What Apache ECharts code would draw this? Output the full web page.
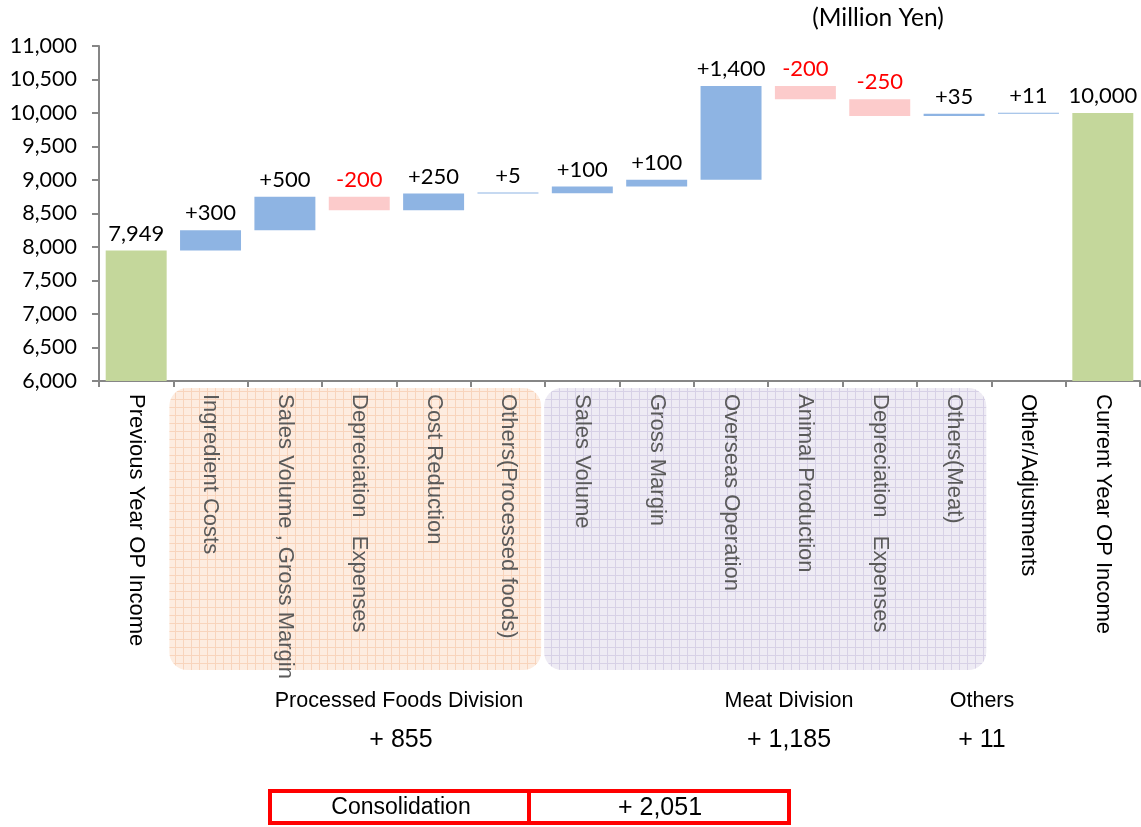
<!DOCTYPE html>
<html>
<head>
<meta charset="utf-8">
<script src="https://cdn.jsdelivr.net/npm/echarts@6/dist/echarts.min.js"></script>
<style>
html,body{margin:0;padding:0;background:#fff;}
#chart{width:1141px;height:827px;}
</style>
</head>
<body>
<div id="chart"></div>
<script>
// ---- data ----
const categories = [
  'Previous Year OP Income', 'Ingredient Costs', 'Sales Volume , Gross Margin',
  'Depreciation   Expenses', 'Cost Reduction', 'Others(Processed foods)',
  'Sales Volume', 'Gross Margin', 'Overseas Operation', 'Animal Production',
  'Depreciation   Expenses', 'Others(Meat)', 'Other/Adjustments', 'Current Year OP Income'
];
const startValue = 7949;
const changes = [300, 500, -200, 250, 5, 100, 100, 1400, -200, -250, 35, 11];
const endValue = 10000;
const yMin = 6000, yMax = 11000, yInterval = 500;
const divisionNames = ['Processed Foods Division', 'Meat Division', 'Others'];
const divisionTotals = ['+ 855', '+ 1,185', '+ 11'];
const consolidationLabel = 'Consolidation';
const consolidationTotal = '+ 2,051';
const unitLabel = '(Million Yen)';

// ---- build waterfall ----
const base = [0], delta = [startValue], kind = ['total'];
let run = startValue;
changes.forEach(c => {
  if (c >= 0) { base.push(run); delta.push(c); kind.push('up'); }
  else { base.push(run + c); delta.push(-c); kind.push('down'); }
  run += c;
});
base.push(0); delta.push(endValue); kind.push('total');
const colorOf = { total: '#C4D79B', up: '#8EB4E3', down: '#FCCBCB' };
const fmt = v => v.toLocaleString('en-US');
const labelText = i => {
  if (kind[i] === 'total') return fmt(delta[i]);
  return (kind[i] === 'up' ? '+' : '-') + fmt(delta[i]);
};

function makePattern(bg, line) {
  const c = document.createElement('canvas');
  c.width = 8; c.height = 8;
  const g = c.getContext('2d');
  g.fillStyle = bg; g.fillRect(0, 0, 8, 8);
  g.fillStyle = line; g.fillRect(7, 0, 1, 8); g.fillRect(0, 7, 8, 1);
  return c;
}

const chart = echarts.init(document.getElementById('chart'));
const inBox = i => i >= 1 && i <= 11;

chart.setOption({
  animation: false,
  grid: { left: 99, right: 1, top: 46, bottom: 446, containLabel: false, outerBoundsMode: 'none' },
  xAxis: {
    type: 'category',
    data: categories,
    axisLine: { lineStyle: { color: '#868686', width: 2 } },
    axisTick: { show: true, length: 6, lineStyle: { color: '#868686', width: 2 } },
    axisLabel: {
      interval: 0, rotate: -90, margin: 13,
      fontFamily: '"Liberation Sans", Arial, sans-serif', fontSize: 22,
      color: (v, i) => inBox(i) ? '#5a5a5a' : '#000000'
    }
  },
  yAxis: {
    type: 'value', min: yMin, max: yMax, interval: yInterval,
    splitLine: { show: false },
    axisLine: { show: true, lineStyle: { color: '#868686', width: 2 } },
    axisTick: { show: true, length: 7, lineStyle: { color: '#868686', width: 2 } },
    axisLabel: {
      margin: 22, fontFamily: 'Lato, sans-serif', fontSize: 21.5, color: '#000',
      formatter: v => fmt(v)
    }
  },
  series: [
    {
      type: 'bar', stack: 'w', silent: true, barCategoryGap: '18%',
      itemStyle: { color: 'transparent' },
      data: base
    },
    {
      type: 'bar', stack: 'w', barCategoryGap: '18%', barMinHeight: 1,
      data: delta.map((v, i) => ({
        value: v,
        itemStyle: { color: colorOf[kind[i]] },
        label: { color: kind[i] === 'down' ? '#FF0000' : '#000000' }
      })),
      label: {
        show: true, position: 'top', distance: 6,
        fontFamily: 'Lato, sans-serif', fontSize: 22,
        formatter: p => labelText(p.dataIndex)
      }
    }
  ]
});

// ---- decorations ----
const orangePat = makePattern('#FDECE0', '#F8D4BC');
const purplePat = makePattern('#EEEBF4', '#D7D1E6');
const arial = '"Liberation Sans", Arial, sans-serif';
const xAt = i => chart.convertToPixel({ xAxisIndex: 0 }, i);
const halfBand = (xAt(1) - xAt(0)) / 2;
const x1 = xAt(1) - halfBand - 4, x2 = xAt(5) + halfBand - 4;
const x3 = xAt(6) - halfBand - 1, x4 = xAt(11) + halfBand - 5;

chart.setOption({
  graphic: [
    { type: 'rect', z: -10, shape: { x: x1, y: 388, width: x2 - x1, height: 282, r: 18 }, style: { fill: { image: orangePat, repeat: 'repeat' } } },
    { type: 'rect', z: -10, shape: { x: x3, y: 388, width: x4 - x3, height: 282, r: 18 }, style: { fill: { image: purplePat, repeat: 'repeat' } } },
    { type: 'text', x: 878, y: 18, style: { text: unitLabel, font: '24.5px Lato, sans-serif', fill: '#000', align: 'center', verticalAlign: 'middle' } },
    { type: 'text', x: 399, y: 701, style: { text: divisionNames[0], font: '21.5px ' + arial, fill: '#000', align: 'center', verticalAlign: 'middle' } },
    { type: 'text', x: 789, y: 701, style: { text: divisionNames[1], font: '21.5px ' + arial, fill: '#000', align: 'center', verticalAlign: 'middle' } },
    { type: 'text', x: 982, y: 701, style: { text: divisionNames[2], font: '21.5px ' + arial, fill: '#000', align: 'center', verticalAlign: 'middle' } },
    { type: 'text', x: 401, y: 740, style: { text: divisionTotals[0], font: '25px ' + arial, fill: '#000', align: 'center', verticalAlign: 'middle' } },
    { type: 'text', x: 789, y: 740, style: { text: divisionTotals[1], font: '25px ' + arial, fill: '#000', align: 'center', verticalAlign: 'middle' } },
    { type: 'text', x: 982, y: 740, style: { text: divisionTotals[2], font: '25px ' + arial, fill: '#000', align: 'center', verticalAlign: 'middle' } },
    { type: 'rect', shape: { x: 270, y: 791, width: 259, height: 32 }, style: { fill: '#fff', stroke: '#FF0000', lineWidth: 4 } },
    { type: 'rect', shape: { x: 529, y: 791, width: 260, height: 32 }, style: { fill: '#fff', stroke: '#FF0000', lineWidth: 4 } },
    { type: 'text', x: 401, y: 808, z: 10, style: { text: consolidationLabel, font: '23px ' + arial, fill: '#000', align: 'center', verticalAlign: 'middle' } },
    { type: 'text', x: 660, y: 808, z: 10, style: { text: consolidationTotal, font: '25px ' + arial, fill: '#000', align: 'center', verticalAlign: 'middle' } }
  ]
});
</script>
</body>
</html>
